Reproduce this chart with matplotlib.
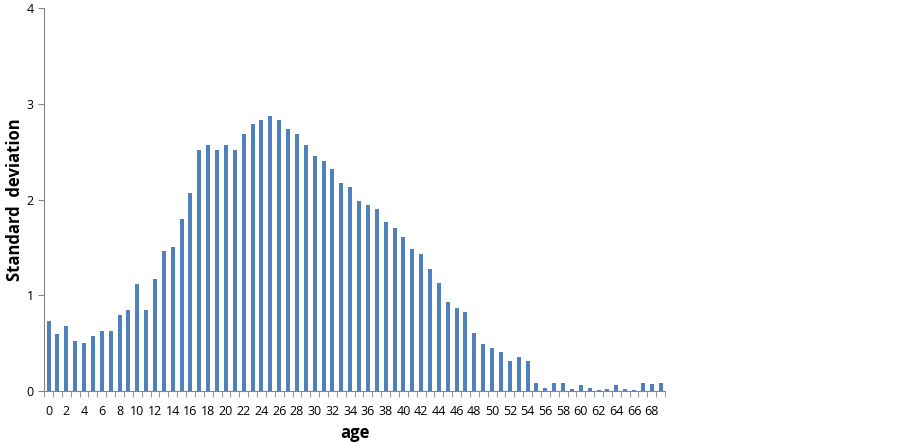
import matplotlib.pyplot as plt
import numpy as np

ages = list(range(70))
std_dev = [0.73, 0.60, 0.68, 0.52, 0.50, 0.58, 0.63, 0.63, 0.80, 0.85,
           1.12, 0.85, 1.17, 1.46, 1.51, 1.80, 2.07, 2.52, 2.57, 2.52,
           2.57, 2.52, 2.68, 2.79, 2.83, 2.87, 2.83, 2.74, 2.68, 2.57,
           2.46, 2.40, 2.32, 2.17, 2.13, 1.99, 1.94, 1.90, 1.77, 1.70,
           1.61, 1.48, 1.43, 1.28, 1.13, 0.93, 0.87, 0.83, 0.61, 0.49,
           0.45, 0.41, 0.31, 0.36, 0.31, 0.09, 0.03, 0.09, 0.09, 0.02,
           0.06, 0.03, 0.01, 0.02, 0.06, 0.02, 0.01, 0.09, 0.07, 0.09]
y_ticks = [0, 1, 2, 3, 4]

plt.rcParams['font.family'] = ['Open Sans', 'DejaVu Sans']

fig = plt.figure(figsize=(9, 4.43), dpi=100)
ax = fig.add_axes([0.049, 0.117, 0.69, 0.865])

ax.bar(ages, std_dev, width=0.45, color='#4F81BD')

ax.set_xlim(-0.5, len(ages) - 0.5)
ax.set_ylim(0, 4)
ax.set_yticks(y_ticks)
ax.set_xticks(ages[::2])
ax.set_xticklabels([str(a) for a in ages[::2]])
ax.set_xticks(np.arange(-0.5, len(ages)), minor=True)

for side in ['top', 'right']:
    ax.spines[side].set_visible(False)
for side in ['left', 'bottom']:
    ax.spines[side].set_color('#868686')

ax.tick_params(axis='x', which='major', length=0, labelsize=9, pad=10)
ax.tick_params(axis='x', which='minor', length=4, color='#868686')
ax.tick_params(axis='y', length=4, color='#868686', labelsize=9)

ax.set_xlabel('age', fontsize=12, fontweight='bold', labelpad=4)
ax.set_ylabel('Standard  deviation', fontsize=12, fontweight='bold')
ax.yaxis.set_label_coords(-0.032, 0.5)

fig.savefig('out.png', dpi=100)
